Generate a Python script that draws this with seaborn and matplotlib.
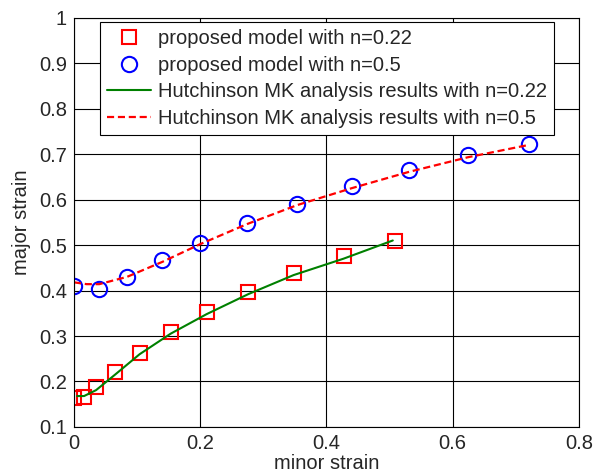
import matplotlib
matplotlib.use("Agg")
import matplotlib.pyplot as plt
import seaborn as sns
import numpy as np

# proposed model, n=0.22 (squares)
sq_x = [0.000, 0.016, 0.035, 0.065, 0.104, 0.153, 0.210, 0.276, 0.348, 0.427, 0.508]
sq_y = [0.164, 0.166, 0.187, 0.221, 0.262, 0.308, 0.353, 0.396, 0.438, 0.475, 0.508]
# proposed model, n=0.5 (circles)
ci_x = [0.000, 0.040, 0.084, 0.140, 0.200, 0.274, 0.354, 0.440, 0.531, 0.624, 0.721]
ci_y = [0.411, 0.403, 0.429, 0.466, 0.504, 0.548, 0.590, 0.629, 0.664, 0.697, 0.722]
# Hutchinson MK, n=0.22 (green line)
gr_x = [0.005, 0.016, 0.035, 0.065, 0.104, 0.153, 0.210, 0.276, 0.348, 0.427, 0.505]
gr_y = [0.168, 0.168, 0.181, 0.215, 0.260, 0.305, 0.348, 0.392, 0.434, 0.470, 0.510]
# Hutchinson MK, n=0.5 (red dashed)
rd_x = [0.000, 0.020, 0.040, 0.084, 0.140, 0.200, 0.274, 0.354, 0.440, 0.531, 0.624, 0.720]
rd_y = [0.418, 0.414, 0.414, 0.430, 0.463, 0.502, 0.546, 0.588, 0.625, 0.661, 0.693, 0.720]

labels = ["proposed model with n=0.22", "proposed model with n=0.5",
          "Hutchinson MK analysis results with n=0.22",
          "Hutchinson MK analysis results with n=0.5"]

sns.set_style("white")
plt.rcParams['font.family'] = ['Liberation Sans', 'DejaVu Sans']

fig = plt.figure(figsize=(6.03, 4.76), dpi=100)
ax = fig.add_axes([0.1227, 0.103, 0.8375, 0.860])

sns.lineplot(x=sq_x, y=sq_y, ax=ax, sort=False, linestyle='', marker='s',
             markersize=10, markerfacecolor='none', markeredgecolor='#ff0000',
             markeredgewidth=1.5, color='#ff0000', label=labels[0])
sns.lineplot(x=ci_x, y=ci_y, ax=ax, sort=False, linestyle='', marker='o',
             markersize=11, markerfacecolor='none', markeredgecolor='#0000ff',
             markeredgewidth=1.5, color='#0000ff', label=labels[1])
sns.lineplot(x=gr_x, y=gr_y, ax=ax, sort=False, color='#008000', linewidth=1.5,
             label=labels[2])
sns.lineplot(x=rd_x, y=rd_y, ax=ax, sort=False, color='#ff0000', linewidth=1.6,
             linestyle=(0, (3.2, 1.7)), label=labels[3])

ax.set_xlim(0, 0.8)
ax.set_ylim(0.1, 1.0)
ax.set_xticks([0, 0.2, 0.4, 0.6, 0.8])
ax.set_xticklabels(['0', '0.2', '0.4', '0.6', '0.8'])
ax.set_yticks([0.1, 0.2, 0.3, 0.4, 0.5, 0.6, 0.7, 0.8, 0.9, 1.0])
ax.set_yticklabels(['0.1', '0.2', '0.3', '0.4', '0.5', '0.6', '0.7', '0.8', '0.9', '1'])
ax.grid(True, color='black', linewidth=0.8)
ax.set_axisbelow(True)
for s in ax.spines.values():
    s.set_color('black')
    s.set_linewidth(0.8)
ax.tick_params(labelsize=14.5, length=0)
ax.tick_params(axis='x', pad=5)
ax.tick_params(axis='y', pad=5)
ax.set_xlabel('minor strain', fontsize=14.5, labelpad=1)
ax.set_ylabel('major strain', fontsize=14.5, labelpad=6)

leg = ax.legend(loc='upper left', bbox_to_anchor=(0.0515, 0.989), fontsize=14.5,
                frameon=True, fancybox=False, edgecolor='black', framealpha=1,
                borderpad=0.35, labelspacing=0.38, handlelength=2.2, handletextpad=0.35,
                borderaxespad=0)
leg.get_frame().set_linewidth(0.8)

fig.savefig('out.png', dpi=100)
